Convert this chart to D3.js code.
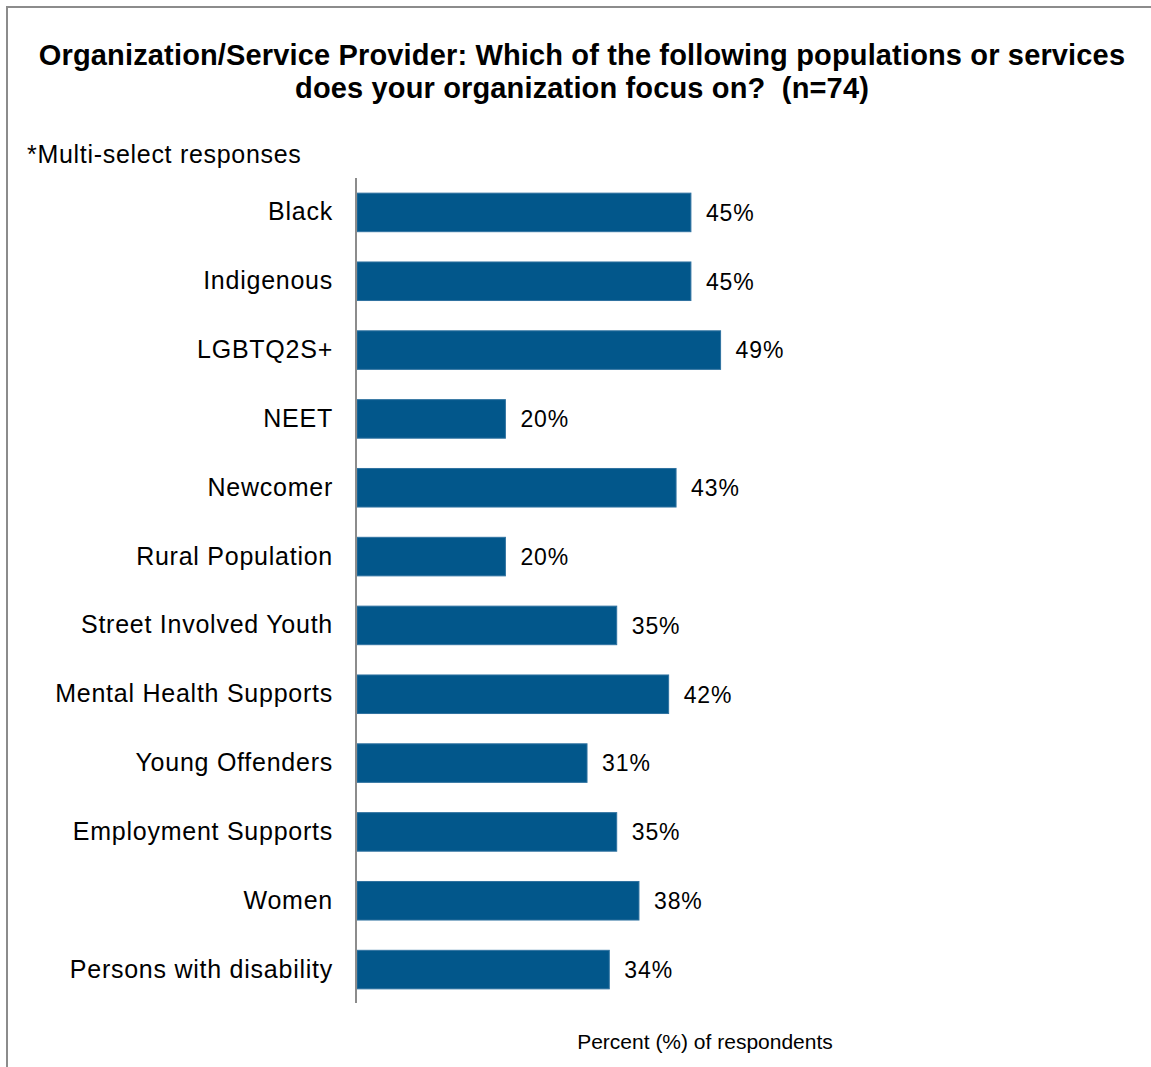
<!DOCTYPE html>
<html>
<head>
<meta charset="utf-8">
<script src="https://cdn.jsdelivr.net/npm/d3@7"></script>
<style>
  html, body { margin: 0; padding: 0; background: #fff; }
  svg { display: block; font-family: "Liberation Sans", Arial, sans-serif; }
</style>
</head>
<body>
<svg id="chart" width="1151" height="1067"></svg>
<script>
// Populations / services and share of organizations focusing on each (%)
const categories = [
  "Black", "Indigenous", "LGBTQ2S+", "NEET", "Newcomer", "Rural Population",
  "Street Involved Youth", "Mental Health Supports", "Young Offenders",
  "Employment Supports", "Women", "Persons with disability"
];
const percentValues = [45, 45, 49, 20, 43, 20, 35, 42, 31, 35, 38, 34];

const titleLines = [
  "Organization/Service Provider: Which of the following populations or services",
  "does your organization focus on?\u00a0\u00a0(n=74)"
];
const noteText = "*Multi-select responses";
const axisTitle = "Percent (%) of respondents";

const svg = d3.select("#chart");

// Outer frame
svg.append("path")
  .attr("d", "M7,1067 V7 H1151")
  .attr("fill", "none")
  .attr("stroke", "#8c8c8c")
  .attr("stroke-width", 2);

// Title
svg.append("g").selectAll("text")
  .data(titleLines)
  .join("text")
  .attr("x", 582)
  .attr("y", (d, i) => 65 + i * 33)
  .attr("text-anchor", "middle")
  .attr("font-weight", "bold")
  .attr("font-size", 29)
  .attr("letter-spacing", 0.15)
  .attr("fill", "#000")
  .text(d => d);

svg.append("text")
  .attr("x", 27)
  .attr("y", 163)
  .attr("font-size", 25)
  .attr("letter-spacing", 0.7)
  .attr("fill", "#000")
  .text(noteText);

const x = d3.scaleLinear().domain([0, 100]).range([357, 1099]);
const y = d3.scaleBand().domain(categories).range([178, 1004]).paddingInner(0.44).paddingOuter(0.22);

const data = categories.map((c, i) => ({ cat: c, v: percentValues[i] }));

// Bars
svg.append("g").selectAll("rect")
  .data(data)
  .join("rect")
  .attr("x", x(0))
  .attr("y", d => y(d.cat))
  .attr("width", d => x(d.v) - x(0))
  .attr("height", y.bandwidth())
  .attr("fill", "#02578B")
  .attr("stroke", "#2f72a0")
  .attr("stroke-width", 1);

// Value labels
svg.append("g").selectAll("text")
  .data(data)
  .join("text")
  .attr("x", d => x(d.v) + 15)
  .attr("y", d => y(d.cat) + y.bandwidth() / 2)
  .attr("dy", "0.36em")
  .attr("font-size", 23)
  .attr("letter-spacing", 0.9)
  .attr("fill", "#000")
  .text(d => d.v + "%");

// Category axis
const yAxis = d3.axisLeft(y).tickSize(0).tickPadding(23);
const gy = svg.append("g")
  .attr("transform", `translate(${x(0) - 1},0)`)
  .call(yAxis);
gy.select(".domain").remove();
gy.selectAll("text")
  .attr("font-size", 25)
  .attr("letter-spacing", 0.75)
  .attr("font-family", "Liberation Sans, Arial, sans-serif")
  .attr("fill", "#000");

svg.append("line")
  .attr("x1", x(0) - 1).attr("x2", x(0) - 1)
  .attr("y1", 178).attr("y2", 1003)
  .attr("stroke", "#8c8c8c")
  .attr("stroke-width", 2);

svg.append("text")
  .attr("x", 705)
  .attr("y", 1049)
  .attr("text-anchor", "middle")
  .attr("font-size", 21)
  .attr("fill", "#000")
  .text(axisTitle);
</script>
</body>
</html>
